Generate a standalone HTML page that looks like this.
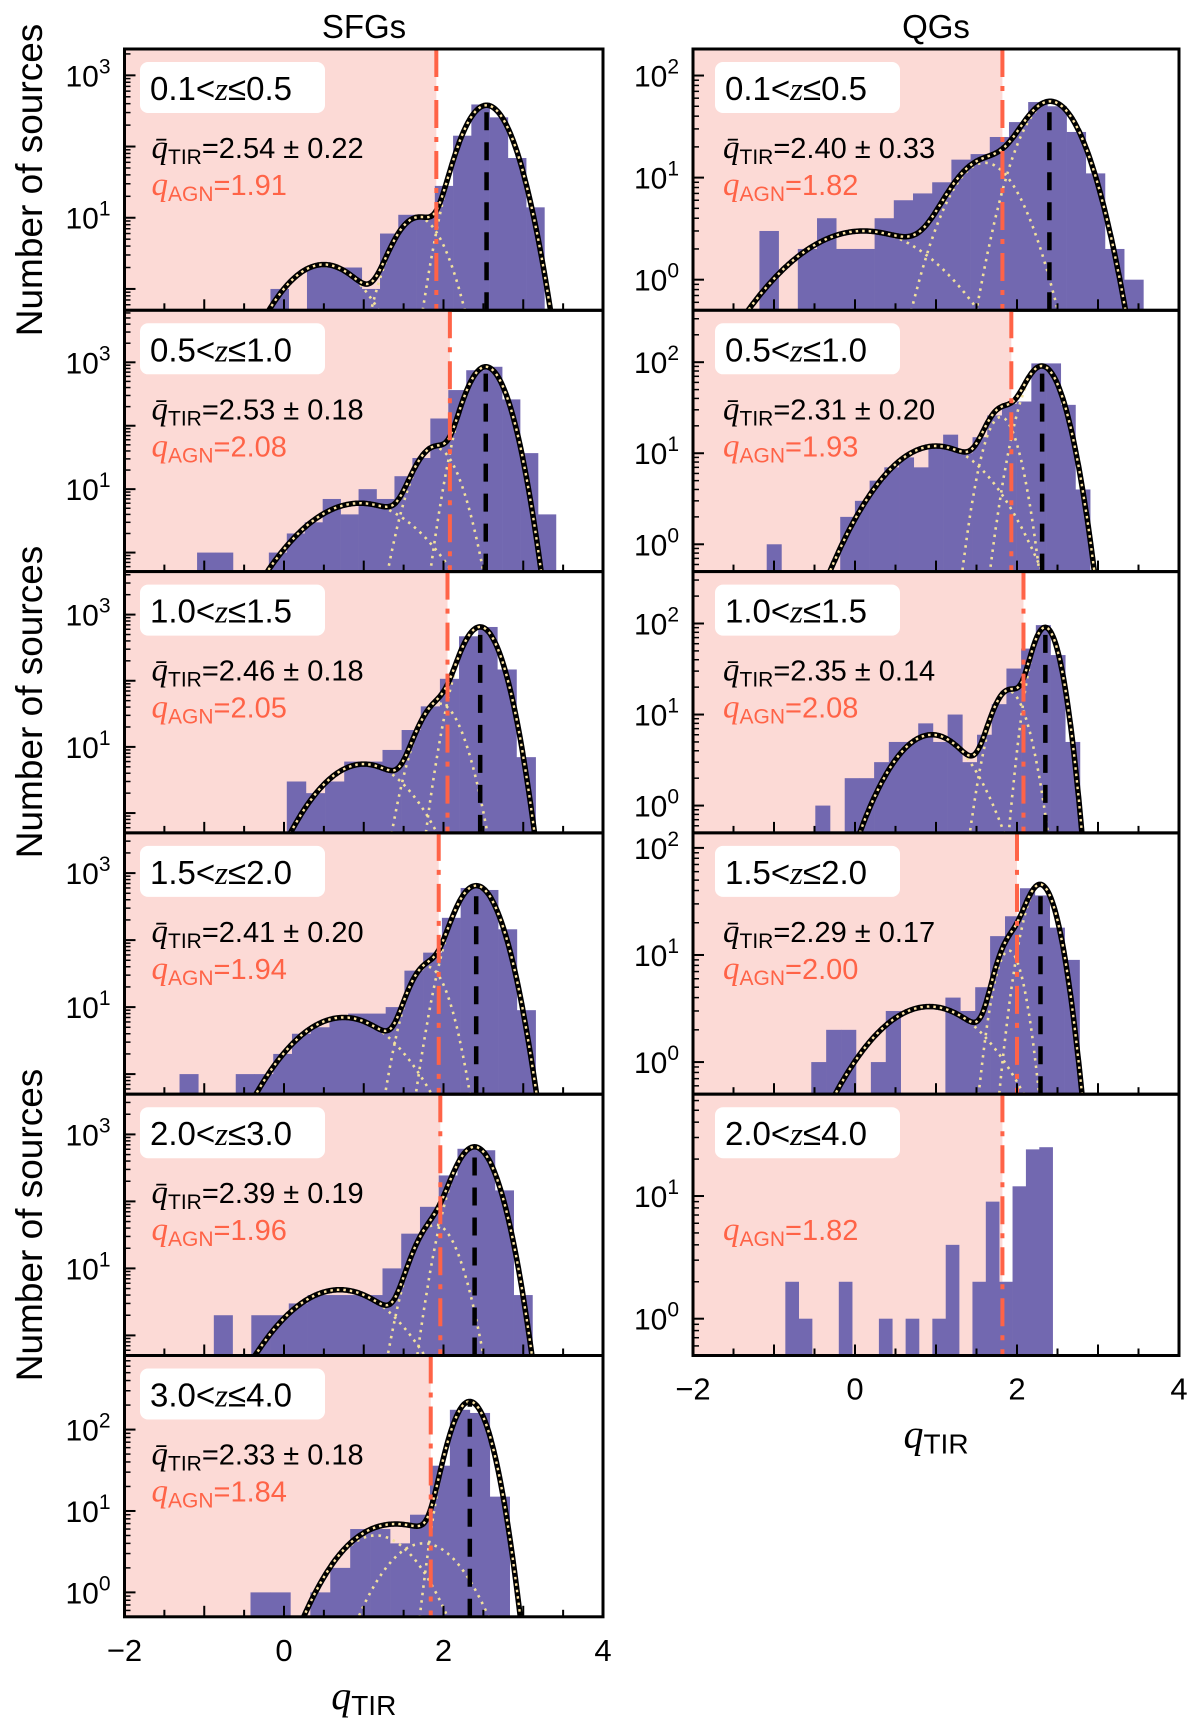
<!DOCTYPE html>
<html><head><meta charset="utf-8"><style>
html,body{margin:0;padding:0;background:#fff;}
svg{display:block;font-family:"Liberation Sans",sans-serif;}
</style></head><body>
<svg id="fig" width="1200" height="1723" viewBox="0 0 1200 1723" xmlns="http://www.w3.org/2000/svg">
<text x="364" y="38" font-size="33" text-anchor="middle">SFGs</text>
<text x="936" y="38" font-size="33" text-anchor="middle">QGs</text>
<text transform="translate(42,180) rotate(-90)" font-size="37" text-anchor="middle">Number of sources</text>
<text transform="translate(42,702) rotate(-90)" font-size="37" text-anchor="middle">Number of sources</text>
<text transform="translate(42,1225) rotate(-90)" font-size="37" text-anchor="middle">Number of sources</text>
</svg>
<script>
// ---- data ----
const xTicks = [-2, 0, 2, 4];
const sfg1Counts = [1,0,2,2,2,1,6,11,10,28,142,390,257,69,14];
const sfg2Counts = [1,1,0,0,1,2,3,7,4,10,7,16,31,130,365,750,850,260,37,4];
const sfg3Counts = [3,2,3,6,6,9,18,41,107,470,650,148,7];
const sfg4Counts = [1,0,0,1,1,2,4,5,7,8,8,10,35,65,215,600,560,145,9];
const sfg5Counts = [2,0,2,2,3,4,4,4,4,10,33,83,244,610,580,146,4];
const sfg6Counts = [1,1,0,1,2,6,6,4,9,36,175,160,15];
const qg1Counts = [3,0,2,4,2,2,4,6,7,9,15,17,25,35,55,50,28,11,2,1];
const qg2Counts = [1,0,0,0,0,2,3,5,7,9,7,12,16,10,15,26,35,37,97,97,34,4];
const qg3Counts = [1,0,2,2,3,5,5,8,5,10,3,6,13,32,53,96,45,5];
const qg4Counts = [1,2,2,0,1,3,0,0,0,4,3,5,15,23,42,36,18,9];
const qg5Counts = [2,1,0,0,2,0,0,1,0,1,0,1,4,0,2,9,2,12,24,25];
// bin start and width per panel
const binStarts = [-0.17,-1.09,0.035,-1.31,-0.88,-0.42,-1.18,-1.09,-0.49,-0.54,-0.86];
const binWidths = [0.229,0.225,0.24,0.235,0.235,0.25,0.237,0.1815,0.1815,0.184,0.165];
// gaussian components (amplitude, mean, sigma)
const compAmps = [[2.2,10,380],[6,45,850],[5.5,45,650],[7,40,650],[4.8,45,650],[5,4,220],[3,14,55],[12,25,90],[6,18,90],[3.3,11,45],[]];
const compMeans = [[0.5,1.68,2.54],[0.95,1.9,2.53],[1.0,1.95,2.46],[0.75,1.8,2.41],[0.7,1.9,2.39],[1.15,1.75,2.33],[0.1,1.6,2.42],[1.0,1.8,2.31],[0.95,1.9,2.35],[0.92,1.9,2.29],[]];
const compSigmas = [[0.4,0.24,0.22],[0.52,0.2,0.18],[0.42,0.2,0.18],[0.48,0.18,0.2],[0.5,0.2,0.19],[0.42,0.4,0.18],[0.75,0.35,0.3],[0.52,0.17,0.2],[0.4,0.18,0.14],[0.6,0.15,0.17],[]];
const qMeans = [2.54,2.53,2.46,2.41,2.39,2.33,2.40,2.31,2.35,2.29,null];
const qStds = ["0.22","0.18","0.18","0.20","0.19","0.18","0.33","0.20","0.14","0.17",null];
const qAgn = [1.91,2.08,2.05,1.94,1.96,1.84,1.82,1.93,2.08,2.00,1.82];
const zLabels = [["0.1","0.5"],["0.5","1.0"],["1.0","1.5"],["1.5","2.0"],["2.0","3.0"],["3.0","4.0"],["0.1","0.5"],["0.5","1.0"],["1.0","1.5"],["1.5","2.0"],["2.0","4.0"]];
const yLogTop = [3.37,3.82,3.65,3.6,3.6,2.91,2.26,2.57,2.57,2.14,1.83];
const yTickExps = [[1,3],[1,3],[1,3],[1,3],[1,3],[0,1,2],[0,1,2],[0,1,2],[0,1,2],[0,1,2],[0,1]];
const allCounts = [sfg1Counts,sfg2Counts,sfg3Counts,sfg4Counts,sfg5Counts,sfg6Counts,qg1Counts,qg2Counts,qg3Counts,qg4Counts,qg5Counts];

const NS = "http://www.w3.org/2000/svg";
const svg = document.getElementById('fig');
function mk(tag, attrs, parent){ const e=document.createElementNS(NS,tag); for(const k in attrs) e.setAttribute(k,attrs[k]); (parent||svg).appendChild(e); return e; }
const YLOGMIN = -0.3, ROW0 = 49, ROWH = 261.3;

function drawPanel(i){
  const right = i >= 6, row = right ? i-6 : i;
  const X0 = right ? 693 : 124.5, X1 = right ? 1179 : 603;
  const T = ROW0 + row*ROWH, B = T + ROWH;
  const xs = q => X0 + (q+2)/6*(X1-X0);
  const ys = v => B - (Math.log10(v) - YLOGMIN)/(yLogTop[i]-YLOGMIN)*ROWH;
  const g = mk('g', {});
  
  
  const cid = 'clip'+i;
  const cp = mk('clipPath', {id:cid}, g); mk('rect',{x:X0,y:T,width:X1-X0,height:ROWH},cp);
  const inner = mk('g', {'clip-path':'url(#'+cid+')'}, g);
  const shade = mk('rect',{x:X0,y:T,width:xs(qAgn[i])-X0,height:ROWH,fill:'#fcdad6'},inner);
  
  
  const c = allCounts[i];
  for(let k=0;k<c.length;k++){
    if(c[k]<=0) continue;
    const ql = binStarts[i]+k*binWidths[i];
    const b = mk('rect',{x:xs(ql),y:ys(c[k]),width:xs(ql+binWidths[i])-xs(ql)+0.3,height:B-ys(c[k])+2,fill:'#7268b0'},inner);
    
    
  }
  const A = compAmps[i], M = compMeans[i], S = compSigmas[i];
  if(A.length){
    const gauss = (a,m,s,q)=>a*Math.exp(-(q-m)*(q-m)/(2*s*s));
    const total = q=>{ let v=0; for(let j=0;j<A.length;j++) v+=gauss(A[j],M[j],S[j],q); return v; };
    for(let j=0;j<A.length;j++){
      let d='';
      for(let q=-2;q<=4.001;q+=0.01){ const v=Math.max(gauss(A[j],M[j],S[j],q),0.05); d+=(d?'L':'M')+xs(q).toFixed(1)+','+ys(v).toFixed(1); }
      const p = mk('path',{d:d,fill:'none',stroke:'#f2e19c','stroke-width':2.6,'stroke-dasharray':'2.5 5'},inner);
      
      
    }
    let d='';
    for(let q=-2;q<=4.001;q+=0.01){ const v=Math.max(total(q),0.05); d+=(d?'L':'M')+xs(q).toFixed(1)+','+ys(v).toFixed(1); }
    const tot = mk('path',{d:d,fill:'none',stroke:'#000','stroke-width':5.5},inner);
    
    
    mk('path',{d:d,fill:'none',stroke:'#ffe6a4','stroke-width':2.4,'stroke-dasharray':'2.5 4'},inner);
    const ml = mk('line',{x1:xs(qMeans[i]),x2:xs(qMeans[i]),y1:B,y2:ys(total(qMeans[i])),stroke:'#000','stroke-width':4.5,'stroke-dasharray':'18 12'},inner);
    
    
  }
  const rl = mk('line',{x1:xs(qAgn[i]),x2:xs(qAgn[i]),y1:T,y2:B,stroke:'#ff6347','stroke-width':4,'stroke-dasharray':'28 9 5 9'},inner);
  
  
  const bx = X0 + (right?22:15.5);
  const box = mk('rect',{x:bx,y:T+13,width:185,height:51,rx:8,fill:'#fff'},g);
  
  
  const zt = mk('text',{x:bx+10,y:T+13+38,'font-size':33},g);
  
  
  zt.innerHTML = zLabels[i][0]+'&lt;<tspan font-family="Liberation Serif, serif" font-style="italic">z</tspan>≤'+zLabels[i][1];
  const tx = X0 + (right?30:27);
  if(qMeans[i]!==null){
    const st = mk('text',{x:tx,y:T+109,'font-size':29},g);
    
    
    st.innerHTML = '<tspan font-family="Liberation Serif, serif" font-style="italic" font-size="33">q̄</tspan><tspan font-size="21" dy="6">TIR</tspan><tspan dy="-6">='+qMeans[i].toFixed(2)+' ± '+qStds[i]+'</tspan>';
  }
  const at = mk('text',{x:tx,y:T+146,'font-size':29,fill:'#ff6347'},g);
  
  
  at.innerHTML = '<tspan font-family="Liberation Serif, serif" font-style="italic" font-size="33">q</tspan><tspan font-size="21" dy="6">AGN</tspan><tspan dy="-6">='+qAgn[i].toFixed(2)+'</tspan>';
  for(let q=-1.5;q<4;q+=0.5){
    const len = Math.abs(q-Math.round(q))<1e-6 ? 11 : 7;
    mk('line',{x1:xs(q),x2:xs(q),y1:B,y2:B-len,stroke:'#000','stroke-width':2},g);
  }
  for(let e=-1;e<=4;e++){
    for(let m=1;m<10;m++){
      const lv = e+Math.log10(m);
      if(lv<YLOGMIN||lv>yLogTop[i]) continue;
      const y = ys(Math.pow(10,lv));
      mk('line',{x1:X0,x2:X0+(m===1?11:6),y1:y,y2:y,stroke:'#000','stroke-width':m===1?2:1.5},g);
    }
  }
  yTickExps[i].forEach(e=>{
    const y = ys(Math.pow(10,e));
    const t = mk('text',{x:X0-14,y:y+11,'font-size':30,'text-anchor':'end'},g);
    
    
    t.innerHTML = '10<tspan font-size="21" dy="-13">'+e+'</tspan>';
  });
  const fr = mk('rect',{x:X0,y:T,width:X1-X0,height:ROWH,fill:'none',stroke:'#000','stroke-width':3},g);
  
  
  if((!right && row===5) || (right && row===4)){
    xTicks.forEach(q=>{
      const t = mk('text',{x:xs(q),y:B+44,'font-size':31,'text-anchor':'middle'},g);
      
      
      t.textContent = q<0 ? '\u2212'+Math.abs(q) : String(q);
    });
    const xl = mk('text',{x:(X0+X1)/2,y:B+92,'font-size':28,'text-anchor':'middle'},g);
    
    
    xl.innerHTML = '<tspan font-family="Liberation Serif, serif" font-style="italic" font-size="40">q</tspan><tspan dy="6">TIR</tspan>';
  }
}
for(let i=0;i<11;i++) drawPanel(i);
</script>
</body></html>
